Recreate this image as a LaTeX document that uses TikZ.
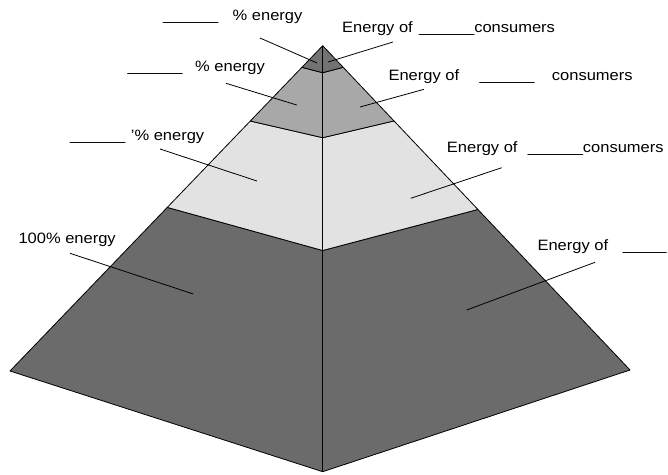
\documentclass[tikz,border=0pt]{standalone}
\usepackage{fontspec}
\setmainfont{Liberation Sans}
\usetikzlibrary{calc}
\definecolor{tipgray}{HTML}{737373}
\definecolor{midgray}{HTML}{A8A8A8}
\definecolor{lightgray}{HTML}{E2E2E2}
\definecolor{basegray}{HTML}{6B6B6B}
\newcommand\lbfont{\fontsize{15}{18}\selectfont}
\newcommand\sx[1]{\scalebox{1.1}[1]{#1}}
\begin{document}
\begin{tikzpicture}[x=1pt,y=-1pt,
  lbl/.style={anchor=base west,inner sep=0pt,font=\lbfont},
  band/.style={draw=black,line width=0.8pt,line join=round},
  leader/.style={draw=black,line width=0.8pt}]
\useasboundingbox (0,0) rectangle (668,474);
% main corners
\coordinate (P) at (322.7,45.7);
\coordinate (L) at (10,371);
\coordinate (R) at (630,370);
\coordinate (B) at (322.7,471.7);
% band boundary points
\coordinate (L1) at ($(P)!0.0664!(L)$);
\coordinate (R1) at ($(P)!0.0666!(R)$);
\coordinate (C1) at (322.7,72.7);
\coordinate (L2) at ($(P)!0.2315!(L)$);
\coordinate (R2) at ($(P)!0.232!(R)$);
\coordinate (C2) at (322.7,137.7);
\coordinate (L3) at ($(P)!0.497!(L)$);
\coordinate (R3) at ($(P)!0.505!(R)$);
\coordinate (C3) at (322.7,250.5);
% bands
\path[band,fill=basegray] (L3) -- (C3) -- (R3) -- (R) -- (B) -- (L) -- cycle;
\path[band,fill=lightgray] (L2) -- (C2) -- (R2) -- (R3) -- (C3) -- (L3) -- cycle;
\path[band,fill=midgray] (L1) -- (C1) -- (R1) -- (R2) -- (C2) -- (L2) -- cycle;
\path[band,fill=tipgray] (P) -- (R1) -- (C1) -- (L1) -- cycle;
\draw[line width=0.9pt] (P) -- (B);
% labels
\node[lbl] (a1) at (163,20.5) {\sx{\_\_\_\_\_\_}};
\node[lbl] (a2) at (232.5,20.5) {\sx{\% energy}};
\node[lbl] (b1) at (342,32) {\sx{Energy of}};
\node[lbl] (b2) at (419,32) {\sx{\_\_\_\_\_\_consumers}};
\node[lbl] (c1) at (127.3,71.7) {\sx{\_\_\_\_\_\_}};
\node[lbl] (c2) at (195,71.7) {\sx{\% energy}};
\node[lbl] (d1) at (388.3,80.7) {\sx{Energy of}};
\node[lbl] (d2) at (479.3,80.7) {\sx{\_\_\_\_\_\_}};
\node[lbl] (d3) at (551.7,80.7) {\sx{consumers}};
\node[lbl] (e1) at (70,140.5) {\sx{\_\_\_\_\_\_}};
\node[lbl] (e2) at (130.7,140.5) {\sx{'\% energy}};
\node[lbl] (f1) at (446.7,152.5) {\sx{Energy of}};
\node[lbl] (f2) at (527.7,152.5) {\sx{\_\_\_\_\_\_consumers}};
\node[lbl] (g1) at (18.3,243.3) {\sx{100\% energy}};
\node[lbl] (h1) at (537.3,250) {\sx{Energy of}};
\node[lbl] (h2) at (622.7,250) {\scalebox{1.05}[1]{\_\_\_\_\_}};
% leader line ends
\coordinate (ka) at (260,38);   \coordinate (ta) at (317,63);
\coordinate (kb) at (393,42);   \coordinate (tb) at (328,62);
\coordinate (kc) at (226,83.3); \coordinate (tc) at (296.7,105);
\coordinate (kd) at (424,89.3); \coordinate (td) at (360,107);
\coordinate (ke) at (160,149);  \coordinate (te) at (257,181);
\coordinate (kf) at (501.7,167.7); \coordinate (tf) at (410.7,198.3);
\coordinate (kg) at (70,253.3); \coordinate (tg) at (193.3,294);
\coordinate (kh) at (595,262.3); \coordinate (th) at (466.7,310);
\draw[leader] (ka) -- (ta);
\draw[leader] (kb) -- (tb);
\draw[leader] (kc) -- (tc);
\draw[leader] (kd) -- (td);
\draw[leader] (ke) -- (te);
\draw[leader] (kf) -- (tf);
\draw[leader] (kg) -- (tg);
\draw[leader] (kh) -- (th);
\end{tikzpicture}
\end{document}
